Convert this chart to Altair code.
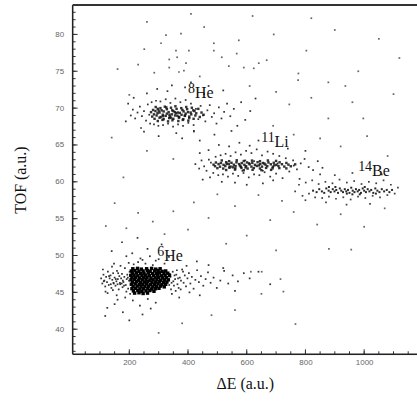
import altair as alt
import pandas as pd

# ---- particle-identification scatter: energy loss vs time of flight ----

# dense core of the 6He group (delta-E, TOF)
he6_core = [
    (212, 48.2), (228, 48.25), (241, 48.15), (259, 48.2), (276, 48.25), (290, 48.15), (305, 48.2),
    (207, 47.9), (219, 47.95), (233, 47.85), (247, 47.9), (262, 47.95), (271, 47.85), (286, 47.9), (298, 47.95), (312, 47.85), (324, 47.9),
    (210, 47.6), (224, 47.65), (238, 47.55), (250, 47.6), (265, 47.65), (279, 47.55), (293, 47.6), (303, 47.65), (318, 47.55), (331, 47.6),
    (205, 47.3), (216, 47.35), (229, 47.25), (243, 47.3), (255, 47.35), (268, 47.25), (283, 47.3), (296, 47.35), (309, 47.25), (322, 47.3), (337, 47.3),
    (209, 47.0), (221, 47.05), (235, 46.95), (248, 47.0), (260, 47.05), (274, 46.95), (288, 47.0), (300, 47.05), (314, 46.95), (327, 47.0),
    (206, 46.7), (218, 46.75), (231, 46.65), (244, 46.7), (257, 46.75), (270, 46.65), (281, 46.7), (294, 46.75), (307, 46.65), (320, 46.7), (333, 46.7),
    (211, 46.4), (225, 46.45), (238, 46.35), (251, 46.4), (263, 46.45), (277, 46.35), (290, 46.4), (302, 46.45), (316, 46.35), (328, 46.4),
    (207, 46.1), (220, 46.15), (234, 46.05), (246, 46.1), (259, 46.15), (272, 46.05), (285, 46.1), (298, 46.15), (311, 46.05), (324, 46.1),
    (213, 45.8), (227, 45.85), (240, 45.75), (253, 45.8), (266, 45.85), (280, 45.75), (292, 45.8), (306, 45.85), (319, 45.75),
    (209, 45.5), (222, 45.55), (236, 45.45), (249, 45.5), (263, 45.55), (276, 45.45), (289, 45.5), (301, 45.55),
    (214, 45.2), (229, 45.25), (243, 45.15), (257, 45.2), (270, 45.25), (284, 45.15),
    (218, 44.9), (233, 44.95), (247, 44.85), (262, 44.9),
]

# 6He tails and surrounding events
he6_halo = [
    (104, 46.9), (108, 46.2), (112, 47.4), (115, 46.6), (118, 45.8), (121, 47.1), (124, 46.4), (127, 47.8),
    (130, 46.0), (133, 46.9), (136, 47.3), (139, 45.6), (142, 46.7), (145, 47.6), (147, 46.2), (150, 47.0),
    (153, 45.9), (156, 46.5), (158, 47.9), (161, 46.8), (164, 45.4), (166, 47.2), (169, 46.1), (172, 46.9),
    (175, 47.5), (177, 45.7), (180, 46.4), (183, 47.1), (185, 48.3), (188, 46.0), (191, 46.8), (193, 47.4),
    (196, 45.5), (199, 46.6), (201, 47.8), (110, 48.1), (126, 44.9), (141, 48.5), (157, 44.6), (170, 48.6),
    (186, 44.3), (198, 49.0), (119, 45.1), (148, 48.9), (162, 47.6), (178, 46.6), (190, 45.1), (203, 44.8),
    (113, 46.5), (137, 46.1), (154, 46.8), (168, 46.3), (182, 45.9), (195, 47.0), (131, 47.2), (146, 46.3),
    (174, 46.2), (160, 46.1), (144, 45.3),
    (125, 42.9), (150, 43.4), (178, 42.3), (212, 43.9), (236, 43.2), (263, 44.1), (290, 43.6), (118, 41.8),
    (200, 41.2), (245, 42.0), (160, 44.0), (273, 42.8),
    (140, 50.6), (175, 51.8), (210, 50.3), (238, 49.6), (262, 50.9), (290, 49.3), (310, 51.5), (335, 49.8),
    (228, 52.4), (190, 49.9), (255, 48.9), (280, 48.7), (300, 49.5), (320, 48.9), (245, 49.4), (270, 49.9),
    (215, 48.8), (230, 49.1),
    (340, 47.1), (344, 46.3), (348, 47.8), (352, 45.9), (356, 46.8), (360, 47.4), (364, 46.1), (368, 45.6),
    (372, 47.0), (376, 46.6), (380, 48.1), (385, 46.3), (389, 47.3), (393, 45.8), (398, 46.9), (403, 47.6),
    (408, 46.2), (413, 47.1), (419, 45.5), (425, 46.7), (431, 48.0), (437, 46.4), (444, 47.2), (452, 45.9),
    (460, 46.8), (468, 47.7), (477, 46.3), (487, 47.0), (498, 45.6), (510, 46.6), (523, 47.9), (537, 46.2),
    (552, 47.3), (570, 46.5), (590, 47.6), (345, 44.8), (370, 44.3), (405, 45.0), (440, 44.6), (395, 48.6),
    (430, 49.2), (470, 48.7), (520, 48.3), (560, 45.2), (610, 46.9), (640, 47.8), (680, 46.1),
    (336, 46.0), (338, 47.5), (342, 45.4), (350, 46.5), (354, 47.3), (358, 45.2), (362, 48.0), (366, 46.9),
    (375, 45.4), (383, 47.8),
]

# 8He group
he8_core = [
    (290, 70.15), (306, 70.0), (321, 70.2), (342, 70.05), (357, 70.25), (377, 70.0), (394, 70.15), (413, 70.05),
    (281, 69.75), (297, 69.9), (310, 69.7), (328, 69.85), (346, 69.7), (361, 69.9), (381, 69.75), (397, 69.85), (418, 69.7), (435, 69.9),
    (274, 69.45), (289, 69.6), (303, 69.4), (317, 69.55), (334, 69.45), (350, 69.6), (365, 69.4), (385, 69.55), (400, 69.45), (422, 69.6), (446, 69.4),
    (284, 69.15), (296, 69.3), (314, 69.1), (328, 69.25), (345, 69.15), (359, 69.3), (378, 69.1), (392, 69.25), (411, 69.15), (428, 69.3), (453, 69.1),
    (278, 68.85), (293, 69.0), (307, 68.8), (324, 68.95), (338, 68.85), (356, 69.0), (370, 68.8), (389, 68.95), (404, 68.85), (425, 69.0), (440, 68.8),
    (286, 68.55), (303, 68.7), (317, 68.5), (336, 68.65), (350, 68.55), (369, 68.7), (384, 68.5), (404, 68.65), (419, 68.55),
    (297, 68.25), (313, 68.4), (332, 68.2), (347, 68.35), (367, 68.25), (382, 68.4), (401, 68.3),
    (300, 69.65), (337, 69.1), (372, 69.35), (315, 68.9), (355, 69.45), (390, 69.0), (326, 70.1), (364, 68.95),
    (409, 69.4), (342, 68.7),
]

he8_halo = [
    (205, 69.0), (212, 69.8), (220, 68.6), (228, 69.4), (236, 70.2), (243, 68.9), (250, 69.6), (257, 68.3),
    (263, 70.5), (268, 69.1), (271, 67.9), (276, 70.8), (284, 67.8), (291, 71.0), (299, 67.6), (306, 70.9),
    (315, 67.7), (324, 71.2), (332, 67.9), (340, 70.7), (349, 67.5), (357, 71.3), (366, 67.8), (374, 70.8),
    (383, 67.6), (392, 71.1), (401, 68.0), (410, 70.6), (419, 67.7), (427, 69.9), (435, 68.5), (443, 70.3),
    (451, 69.0), (459, 68.2), (466, 69.7), (474, 70.4), (481, 68.8), (489, 69.3), (497, 67.9), (505, 70.1),
    (514, 68.6), (523, 69.5), (533, 70.6), (544, 68.9), (556, 69.9), (568, 67.6), (581, 70.8), (595, 68.4),
    (612, 69.6), (630, 71.3), (196, 70.6), (188, 68.2), (215, 71.4), (240, 67.3), (260, 72.0), (295, 72.6),
    (330, 72.3), (360, 66.6), (390, 72.8), (420, 66.9), (455, 71.9), (490, 66.4), (520, 72.4), (548, 66.9),
    (300, 66.2), (250, 66.8), (345, 73.1), (410, 73.5), (470, 73.0), (380, 65.9), (440, 65.6),
]

# 11Li group
li11_core = [
    (515, 62.9), (540, 62.8), (566, 62.92), (590, 62.82), (618, 62.88), (645, 62.8), (672, 62.9), (700, 62.84),
    (495, 62.62), (512, 62.55), (530, 62.66), (548, 62.58), (565, 62.64), (583, 62.54), (601, 62.63), (619, 62.57),
    (637, 62.66), (655, 62.55), (674, 62.62), (692, 62.58), (712, 62.65), (735, 62.56),
    (487, 62.33), (504, 62.4), (521, 62.3), (539, 62.38), (556, 62.32), (574, 62.4), (592, 62.31), (610, 62.37),
    (628, 62.3), (646, 62.41), (664, 62.33), (682, 62.38), (701, 62.3), (720, 62.39), (742, 62.33), (765, 62.37),
    (492, 62.12), (509, 62.05), (527, 62.14), (545, 62.07), (562, 62.13), (580, 62.04), (598, 62.12), (616, 62.06),
    (634, 62.15), (652, 62.06), (670, 62.12), (689, 62.05), (708, 62.14), (728, 62.07), (750, 62.11),
    (500, 61.85), (520, 61.8), (541, 61.9), (561, 61.82), (582, 61.88), (603, 61.8), (624, 61.87),
    (645, 61.81), (666, 61.89), (688, 61.83), (711, 61.86), (735, 61.82),
    (530, 61.6), (560, 61.65), (590, 61.57), (620, 61.63), (650, 61.58), (683, 61.62),
    (532, 62.45), (577, 62.2), (608, 62.5), (641, 62.22), (660, 62.48), (596, 61.95), (553, 61.97), (694, 62.24),
]

li11_halo = [
    (425, 62.4), (438, 61.8), (446, 62.9), (455, 62.1), (463, 61.5), (471, 63.0), (478, 62.6), (486, 61.2),
    (494, 63.4), (503, 60.9), (511, 63.6), (519, 61.0), (528, 63.8), (536, 60.7), (545, 63.5), (553, 61.1),
    (562, 64.0), (571, 60.8), (580, 63.7), (589, 61.2), (598, 64.2), (607, 60.6), (616, 63.9), (625, 61.0),
    (634, 64.4), (643, 60.9), (652, 63.6), (661, 61.3), (671, 64.1), (680, 60.7), (690, 63.8), (700, 61.1),
    (711, 63.5), (722, 60.5), (733, 63.2), (745, 61.4), (758, 62.9), (771, 61.7), (784, 62.5), (797, 63.1),
    (811, 62.0), (826, 61.6), (842, 62.8), (858, 61.9), (470, 64.3), (505, 65.0), (540, 64.8), (575, 65.3),
    (610, 64.9), (640, 65.6), (560, 59.9), (600, 59.6), (655, 59.8), (690, 60.2), (515, 60.0), (475, 60.6),
    (740, 64.5), (780, 60.4), (800, 64.2), (440, 63.9), (450, 60.3), (595, 62.9), (625, 62.8), (655, 61.5),
    (585, 61.5), (540, 62.0), (705, 62.5), (760, 62.2),
]

# 14Be group
be14_core = [
    (826, 58.8), (838, 58.6), (847, 59.0), (856, 58.7), (864, 58.5), (871, 59.1), (879, 58.8), (886, 58.6),
    (893, 59.0), (899, 58.7), (905, 58.9), (911, 58.5), (917, 59.1), (922, 58.8), (928, 58.6), (934, 59.0),
    (939, 58.7), (945, 58.9), (950, 58.5), (956, 59.2), (961, 58.8), (967, 58.6), (972, 59.0), (978, 58.7),
    (983, 58.9), (989, 58.5), (995, 59.1), (1000, 58.8), (1006, 58.6), (1012, 59.0), (1018, 58.7), (1024, 58.9),
    (1031, 58.5), (1038, 59.1), (1045, 58.8), (1052, 58.6), (1060, 59.0), (1068, 58.7), (1077, 58.9), (1086, 58.6),
    (1095, 58.9), (941, 58.4), (902, 59.3), (1002, 59.3), (960, 58.3), (1040, 58.4), (880, 59.3), (985, 58.3),
]

be14_halo = [
    (765, 58.7), (778, 59.6), (790, 58.1), (801, 59.9), (812, 58.4), (823, 60.2), (833, 57.9), (845, 59.7),
    (857, 57.8), (868, 60.0), (880, 58.0), (892, 59.8), (904, 57.7), (916, 60.3), (929, 57.9), (941, 59.9),
    (954, 57.6), (966, 60.1), (979, 58.0), (991, 59.7), (1004, 57.8), (1016, 60.0), (1029, 58.1), (1041, 59.8),
    (1054, 57.9), (1066, 60.2), (1079, 58.2), (1091, 59.6), (1104, 58.4), (1115, 59.2), (850, 61.0), (900, 60.9),
    (960, 61.2), (1020, 57.0), (940, 56.9), (870, 57.2), (800, 57.5), (1060, 61.0),
]

# random-coincidence background
background = [
    (325, 79.9), (376, 80.1), (308, 78.8), (251, 78.0), (359, 77.8), (403, 77.8), (336, 76.6), (363, 76.9),
    (393, 76.1), (336, 75.5), (369, 74.9), (386, 75.1), (488, 78.8), (573, 79.2), (566, 77.4), (692, 80.0),
    (515, 76.9), (590, 75.5), (624, 75.4), (641, 76.1), (668, 76.5), (776, 74.7), (803, 77.8), (488, 77.8),
    (539, 75.7), (980, 75.0), (878, 73.5), (936, 73.0), (775, 73.8), (878, 68.6), (997, 68.6), (440, 74.3),
    (285, 74.8), (230, 75.9), (455, 81.0), (610, 73.0), (700, 72.2), (745, 70.5), (820, 71.4), (690, 67.6),
    (760, 66.4), (850, 65.9), (920, 64.8), (1010, 66.2), (1080, 63.5), (960, 70.8), (1100, 71.9), (500, 58.3),
    (420, 57.2), (350, 56.0), (280, 54.6), (230, 55.8), (190, 53.7), (150, 57.1), (120, 54.0), (320, 52.9),
    (400, 53.5), (470, 55.1), (560, 56.7), (640, 58.2), (720, 57.4), (680, 54.8), (600, 52.7), (530, 51.6),
    (760, 55.9), (840, 54.2), (920, 55.6), (1000, 53.9), (1070, 56.4), (880, 50.9), (700, 50.7), (650, 44.8),
    (560, 42.6), (480, 41.9), (380, 40.8), (300, 39.5), (180, 60.6), (260, 64.2), (350, 63.1), (420, 66.8),
    (140, 66.0), (200, 71.8), (160, 75.3), (1120, 76.8), (1050, 79.4), (900, 80.6), (820, 82.2), (620, 82.5),
    (410, 82.8), (260, 81.7), (614, 47.8), (651, 47.8), (715, 46.8), (725, 45.1), (766, 40.7), (956, 50.8),
]

# group labels: mass number, element, anchor (delta-E, TOF)
label_mass = ["8", "11", "14", "6"]
label_elem = ["He", "Li", "Be", "He"]
label_de = [424, 695, 1027, 319]
label_tof = [71.35, 64.7, 60.8, 49.3]

x_major = [200, 400, 600, 800, 1000]
y_major = [40, 45, 50, 55, 60, 65, 70, 75, 80]
x_minor = list(range(50, 1200, 50))
y_minor = list(range(37, 84))

X_DOMAIN = [7, 1180]
Y_DOMAIN = [36.6, 84.0]
W, H = 346, 351

xs = alt.Scale(domain=X_DOMAIN, nice=False, zero=False)
ys = alt.Scale(domain=Y_DOMAIN, nice=False, zero=False)

# one shared axis definition per channel, repeated in every layer so the merge keeps it
x_axis = alt.Axis(
    values=x_major, format="d", ticks=False, domain=False, grid=False,
    labelFont="Liberation Sans", labelFontSize=8, labelColor="#666666",
    labelPadding=4, title="ΔE (a.u.)", titleFont="Liberation Serif",
    titleFontSize=16, titleFontWeight="normal", titleColor="#111111",
    titlePadding=9,
)
y_axis = alt.Axis(
    values=y_major, format="d", ticks=False, domain=False, grid=False,
    labelFont="Liberation Sans", labelFontSize=8, labelColor="#666666",
    labelPadding=9, title="TOF (a.u.)", titleFont="Liberation Serif",
    titleFontSize=16, titleFontWeight="normal", titleColor="#111111",
    titlePadding=26,
)


def X():
    return alt.X("de:Q", scale=xs, axis=x_axis)


def Y():
    return alt.Y("tof:Q", scale=ys, axis=y_axis)


def pts(rows):
    return pd.DataFrame(rows, columns=["de", "tof"])


def scatter(rows, size, opacity, color="#111111"):
    return (
        alt.Chart(pts(rows))
        .mark_square(size=size, opacity=opacity, color=color, strokeWidth=0)
        .encode(x=X(), y=Y())
    )


def yticks(vals, length):
    return (
        alt.Chart(pd.DataFrame({"tof": vals}))
        .mark_rule(color="#333333", strokeWidth=1)
        .encode(y=Y(), x=alt.value(0), x2=alt.value(length))
    )


def xticks(vals, length):
    return (
        alt.Chart(pd.DataFrame({"de": vals}))
        .mark_rule(color="#333333", strokeWidth=1)
        .encode(x=X(), y=alt.value(H), y2=alt.value(H - length))
    )


# plot frame: left, top and bottom edges (the right edge lies past the page)
frame_left = alt.Chart(pd.DataFrame({"k": [0]})).mark_rule(color="#222222", strokeWidth=1.5).encode(
    x=alt.value(0), y=alt.value(0), y2=alt.value(H)
)
frame_top = alt.Chart(pd.DataFrame({"k": [0]})).mark_rule(color="#333333", strokeWidth=2).encode(
    x=alt.value(0), x2=alt.value(W), y=alt.value(0)
)
frame_bottom = alt.Chart(pd.DataFrame({"k": [0]})).mark_rule(color="#222222", strokeWidth=1.5).encode(
    x=alt.value(0), x2=alt.value(W), y=alt.value(H)
)

labels = pd.DataFrame({"mass": label_mass, "elem": label_elem, "de": label_de, "tof": label_tof})
mass_text = (
    alt.Chart(labels)
    .mark_text(font="Liberation Serif", fontSize=14, align="right", baseline="alphabetic", dy=-5, color="#111111")
    .encode(x=X(), y=Y(), text="mass:N")
)
elem_text = (
    alt.Chart(labels)
    .mark_text(font="Liberation Serif", fontSize=16, align="left", baseline="alphabetic", color="#111111")
    .encode(x=X(), y=Y(), text="elem:N")
)

chart = (
    alt.layer(
        scatter(background, 3, 0.75, "#333333"),
        scatter(he6_halo, 3, 0.85),
        scatter(he8_halo, 3, 0.85),
        scatter(li11_halo, 3, 0.85),
        scatter(be14_halo, 3, 0.8),
        scatter(be14_core, 4, 0.9),
        scatter(he8_core, 6, 0.85),
        scatter(li11_core, 6, 0.85),
        scatter(he6_core, 12, 1.0, "#000000"),
        yticks(y_major, 5), yticks(y_minor, 3),
        xticks(x_major, 5), xticks(x_minor, 3),
        frame_left, frame_top, frame_bottom,
        mass_text, elem_text,
    )
    .properties(
        width=W, height=H,
        autosize=alt.AutoSizeParams(type="none"),
        padding={"left": 73, "top": 4, "right": 0, "bottom": 46},
    )
    .configure_view(stroke=None)
    .configure(background="white")
)

chart.save("out.html", embed_options={"renderer": "svg", "actions": False})
